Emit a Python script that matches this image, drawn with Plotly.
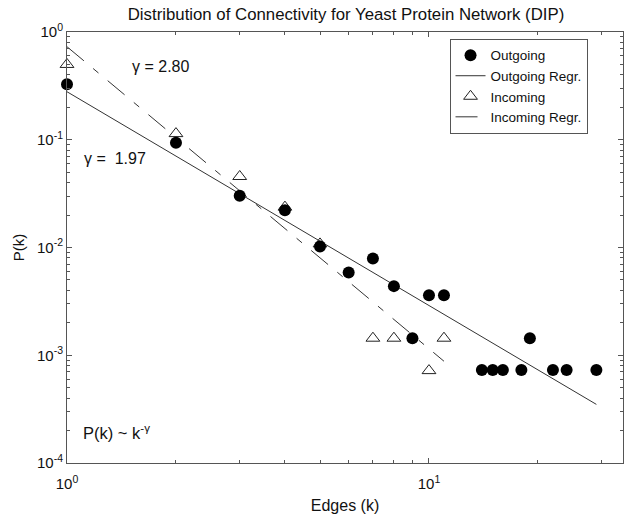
import plotly.graph_objects as go

# ---- data ----
out_k = [1, 2, 3, 4, 5, 6, 7, 8, 9, 10, 11, 14, 15, 16, 18, 19, 22, 24, 29]
out_p = [0.327, 0.0938, 0.0302, 0.0222, 0.0102, 0.00587, 0.00792, 0.00438,
         0.00144, 0.00361, 0.00361, 0.00073, 0.00073, 0.00073, 0.00073,
         0.00144, 0.00073, 0.00073, 0.00073]

in_k = [1, 2, 3, 4, 5, 7, 8, 10, 11]
in_p = [0.50, 0.114, 0.0456, 0.0237, 0.0108, 0.00144, 0.00144, 0.00072, 0.00144]

out_reg_k = [1, 29]
out_reg_p = [0.279, 0.00035]
in_reg_k = [1, 11]
in_reg_p = [0.73, 0.00088]

x_tickvals = [1, 10]
x_ticktext = ["10<sup>0</sup>", "10<sup>1</sup>"]
y_tickvals = [1e-4, 1e-3, 1e-2, 1e-1, 1]
y_ticktext = ["10<sup>-4</sup>", "10<sup>-3</sup>", "10<sup>-2</sup>",
              "10<sup>-1</sup>", "10<sup>0</sup>"]

FONT = "Liberation Sans, Arial, sans-serif"
AX = "#555555"
LN = "#333333"

minor_x = [m * 10 ** e for e in range(0, 2) for m in range(2, 10)]
minor_y = [m * 10 ** e for e in range(-4, 0) for m in range(2, 10)]

fig = go.Figure()

fig.add_trace(go.Scatter(
    x=in_k, y=in_p, mode="markers", name="Incoming", legendrank=3, cliponaxis=False,
    marker=dict(symbol="triangle-up-open", size=12, color="#222",
                line=dict(width=1, color="#222"))))
fig.add_trace(go.Scatter(
    x=in_reg_k, y=in_reg_p, mode="lines", name="Incoming Regr.", legendrank=4,
    line=dict(color=LN, width=1, dash="22px,12px,7px,12px")))
fig.add_trace(go.Scatter(
    x=out_reg_k, y=out_reg_p, mode="lines", name="Outgoing Regr.", legendrank=2,
    line=dict(color=LN, width=1)))
fig.add_trace(go.Scatter(
    x=out_k, y=out_p, mode="markers", name="Outgoing", legendrank=1, cliponaxis=False,
    marker=dict(symbol="circle", size=12, color="#000")))

axis_common = dict(
    showgrid=False, zeroline=False, showline=True, linecolor=AX, linewidth=1,
    mirror="allticks", ticks="inside", ticklen=5, tickcolor=AX, tickwidth=1,
    tickfont=dict(family=FONT, size=15, color="#111"),
)

fig.update_xaxes(
    type="log", range=[0, 1.536],
    tickvals=x_tickvals, ticktext=x_ticktext, ticklabelstandoff=7,
    minor=dict(tickvals=minor_x, ticks="inside", ticklen=3, tickcolor=AX, showgrid=False),
    title=dict(text="Edges (k)", font=dict(family=FONT, size=16, color="#111"), standoff=8),
    **axis_common)
fig.update_yaxes(
    type="log", range=[-4, 0],
    tickvals=y_tickvals, ticktext=y_ticktext,
    minor=dict(tickvals=minor_y, ticks="inside", ticklen=3, tickcolor=AX, showgrid=False),
    title=dict(text="P(k)", font=dict(family=FONT, size=15, color="#111"), standoff=8),
    **axis_common)

fig.update_layout(
    width=624, height=518,
    margin=dict(l=67, r=1, t=32, b=55),
    paper_bgcolor="white", plot_bgcolor="white",
    font=dict(family=FONT, color="#111"),
    title=dict(text="Distribution of Connectivity for Yeast Protein Network (DIP)",
               font=dict(family=FONT, size=16.8, color="#111"),
               x=346 / 624, xanchor="center", y=1 - 14 / 518, yanchor="middle"),
    legend=dict(x=0.688, xanchor="left", y=0.984, yanchor="top",
                bordercolor="#555", borderwidth=1, bgcolor="white",
                font=dict(family=FONT, size=13.5, color="#111"),
                tracegroupgap=0, itemwidth=30),
    showlegend=True,
    annotations=[
        dict(text="\u03b3 = 2.80", xref="paper", yref="paper",
             x=(130 - 67) / 556, y=(463 - 66) / 431, xanchor="left", yanchor="middle",
             showarrow=False, font=dict(family=FONT, size=16, color="#111")),
        dict(text="\u03b3 =  1.97", xref="paper", yref="paper",
             x=(82 - 67) / 556, y=(463 - 158) / 431, xanchor="left", yanchor="middle",
             showarrow=False, font=dict(family=FONT, size=16, color="#111")),
        dict(text="P(k) ~ k<sup>-\u03b3</sup>", xref="paper", yref="paper",
             x=(81 - 67) / 556, y=(463 - 432) / 431, xanchor="left", yanchor="middle",
             showarrow=False, font=dict(family=FONT, size=16.5, color="#111")),
    ],
)

fig.write_html("out.html")
